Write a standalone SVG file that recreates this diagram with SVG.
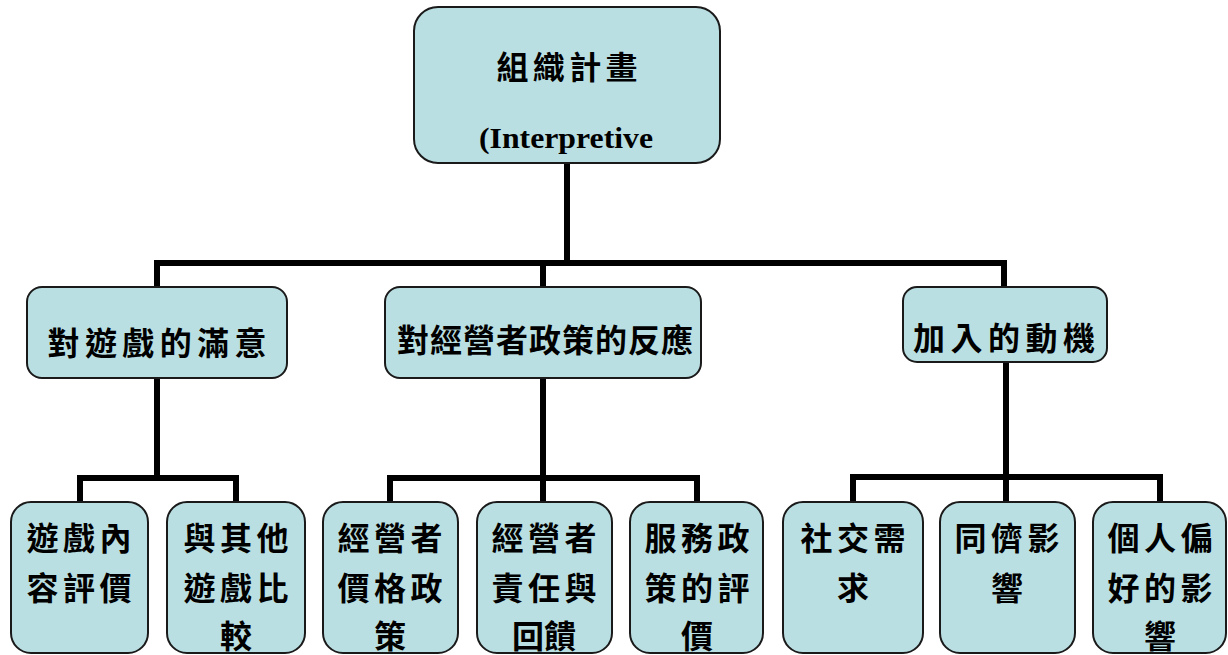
<svg xmlns="http://www.w3.org/2000/svg" width="1228" height="655" viewBox="0 0 1228 655">
<style>
.box{fill:#BADFE3;stroke:#1a1a1a;stroke-width:2}
.cjk{font-family:"Noto Sans CJK TC","Noto Sans CJK SC",sans-serif;font-weight:bold;font-size:32px;fill:#000;text-anchor:middle}
.lat{font-family:"Liberation Serif",serif;font-weight:bold;font-size:30px;fill:#000;text-anchor:middle}
.conn{fill:none;stroke:#000;stroke-width:6;stroke-linejoin:miter}
</style>
<rect width="1228" height="655" fill="#fff"/>
<g id="connectors">
<path class="conn" d="M567 163 V263"/>
<path class="conn" d="M157 287 V263 H1004 V287"/>
<path class="conn" d="M543 263 V287"/>
<path class="conn" d="M157 378 V478"/>
<path class="conn" d="M80 502 V478 H236 V502"/>
<path class="conn" d="M543 378 V502"/>
<path class="conn" d="M390 502 V478 H697 V502"/>
<path class="conn" d="M1006 362 V502"/>
<path class="conn" d="M853 502 V477 H1160 V502"/>
</g>
<g id="n-root">
<rect class="box" x="414" y="7" width="306" height="156" rx="24"/>
<text class="cjk" x="567" y="79" textLength="141" lengthAdjust="spacing">組織計畫</text>
<text class="lat" x="566" y="148" textLength="174" lengthAdjust="spacingAndGlyphs">(Interpretive</text>
</g>
<g id="n-a">
<rect class="box" x="27" y="287" width="260" height="91" rx="15"/>
<text class="cjk" x="157" y="355" textLength="219" lengthAdjust="spacing">對遊戲的滿意</text>
</g>
<g id="n-b">
<rect class="box" x="385" y="287" width="316" height="91" rx="15"/>
<text class="cjk" x="545" y="352" textLength="296" lengthAdjust="spacing">對經營者政策的反應</text>
</g>
<g id="n-c">
<rect class="box" x="903" y="287" width="204" height="75" rx="14"/>
<text class="cjk" x="1004" y="350" textLength="182" lengthAdjust="spacing">加入的動機</text>
</g>
<g id="n-a1">
<rect class="box" x="11" y="502" width="137" height="151" rx="20"/>
<text class="cjk" x="79" y="550" textLength="105" lengthAdjust="spacing">遊戲內</text>
<text class="cjk" x="79" y="600" textLength="105" lengthAdjust="spacing">容評價</text>
</g>
<g id="n-a2">
<rect class="box" x="167" y="502" width="138" height="151" rx="20"/>
<text class="cjk" x="236" y="550" textLength="105" lengthAdjust="spacing">與其他</text>
<text class="cjk" x="236" y="600" textLength="105" lengthAdjust="spacing">遊戲比</text>
<text class="cjk" x="236" y="648">較</text>
</g>
<g id="n-b1">
<rect class="box" x="323" y="502" width="135" height="151" rx="20"/>
<text class="cjk" x="390" y="550" textLength="105" lengthAdjust="spacing">經營者</text>
<text class="cjk" x="390" y="600" textLength="105" lengthAdjust="spacing">價格政</text>
<text class="cjk" x="390" y="648">策</text>
</g>
<g id="n-b2">
<rect class="box" x="477" y="502" width="135" height="151" rx="20"/>
<text class="cjk" x="544" y="550" textLength="105" lengthAdjust="spacing">經營者</text>
<text class="cjk" x="544" y="600" textLength="105" lengthAdjust="spacing">責任與</text>
<text class="cjk" x="544" y="648">回饋</text>
</g>
<g id="n-b3">
<rect class="box" x="630" y="502" width="133" height="151" rx="20"/>
<text class="cjk" x="697" y="550" textLength="105" lengthAdjust="spacing">服務政</text>
<text class="cjk" x="697" y="600" textLength="105" lengthAdjust="spacing">策的評</text>
<text class="cjk" x="697" y="648">價</text>
</g>
<g id="n-c1">
<rect class="box" x="783" y="502" width="140" height="151" rx="20"/>
<text class="cjk" x="853" y="550" textLength="105" lengthAdjust="spacing">社交需</text>
<text class="cjk" x="853" y="600">求</text>
</g>
<g id="n-c2">
<rect class="box" x="940" y="502" width="135" height="151" rx="20"/>
<text class="cjk" x="1007" y="550" textLength="105" lengthAdjust="spacing">同儕影</text>
<text class="cjk" x="1007" y="600">響</text>
</g>
<g id="n-c3">
<rect class="box" x="1093" y="502" width="133" height="151" rx="20"/>
<text class="cjk" x="1160" y="550" textLength="105" lengthAdjust="spacing">個人偏</text>
<text class="cjk" x="1160" y="600" textLength="105" lengthAdjust="spacing">好的影</text>
<text class="cjk" x="1160" y="648">響</text>
</g>
</svg>
